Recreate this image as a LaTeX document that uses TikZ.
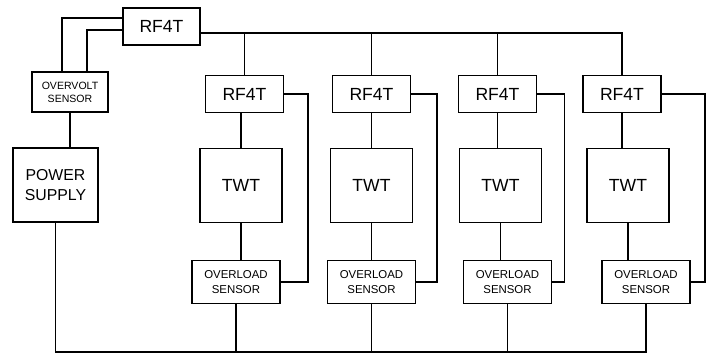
\documentclass[tikz,border=0pt]{standalone}
\usepackage{fontspec}
\setmainfont{Liberation Sans}
\usepackage{tikz}
\usetikzlibrary{positioning, calc}
\tikzstyle{rfbox} = [rectangle, minimum width=1.56cm, minimum height=0.74cm, text centered, draw=black, line width=1.05pt, inner sep=0pt, outer sep=0pt, font=\fontsize{10}{12}\selectfont]
\tikzstyle{twtbox} = [rectangle, minimum width=1.64cm, minimum height=1.48cm, text centered, draw=black, line width=1.05pt, inner sep=0pt, outer sep=0pt, font=\fontsize{10}{12}\selectfont]
\tikzstyle{sensor} = [rectangle, minimum width=1.76cm, minimum height=0.86cm, align=center, draw=black, line width=1.05pt, inner sep=0pt, outer sep=0pt, font=\fontsize{6.5}{8.5}\selectfont]
\tikzstyle{wire} = [line width=1.05pt]

\begin{document}
\begin{tikzpicture}
    \useasboundingbox (0,0) rectangle (14.28,7.12);

    % Control RF4T and supply branch
    \node (rftop) [rfbox, minimum width=1.54cm] at (3.23,6.59) {RF4T};
    \node (ov) [sensor, minimum width=1.52cm, minimum height=0.8cm, font=\fontsize{6}{7.5}\selectfont] at (1.40,5.28) {OVERVOLT\\SENSOR};
    \node (ps) [twtbox, minimum width=1.70cm, align=center, font=\fontsize{9}{11}\selectfont] at (1.11,3.42) {POWER\\SUPPLY};

    % Channel 1
    \node (rf1) [rfbox] at (4.89,5.24) {RF4T};
    \node (tw1) [twtbox, below=0.72cm of rf1, xshift=-0.07cm] {TWT};
    \node (ol1) [sensor, below=0.76cm of tw1, xshift=-0.1cm] {OVERLOAD\\SENSOR};

    % Channel 2
    \node (rf2) [rfbox, right=0.98cm of rf1] {RF4T};
    \node (tw2) [twtbox, below=0.72cm of rf2] {TWT};
    \node (ol2) [sensor, below=0.76cm of tw2] {OVERLOAD\\SENSOR};

    % Channel 3
    \node (rf3) [rfbox, right=0.96cm of rf2] {RF4T};
    \node (tw3) [twtbox, below=0.72cm of rf3, xshift=0.06cm] {TWT};
    \node (ol3) [sensor, below=0.76cm of tw3, xshift=0.14cm] {OVERLOAD\\SENSOR};

    % Channel 4
    \node (rf4) [rfbox, right=0.93cm of rf3] {RF4T};
    \node (tw4) [twtbox, below=0.72cm of rf4, xshift=0.12cm] {TWT};
    \node (ol4) [sensor, below=0.76cm of tw4, xshift=0.36cm] {OVERLOAD\\SENSOR};

    % --- Buses ---
    \coordinate (busT) at ([yshift=-0.13cm]rftop.east);
    \coordinate (busB) at (0,0.08);

    \draw [wire] (busT) -| (rf4.north);
    \draw [wire] (rf1.north) -- (rf1.north |- busT);
    \draw [wire] (rf2.north) -- (rf2.north |- busT);
    \draw [wire] (rf3.north) -- (rf3.north |- busT);

    \draw [wire] ([yshift=0.17cm]rftop.west) -| ($(ov.north)+(-0.16,0)$);
    \draw [wire] ([yshift=-0.07cm]rftop.west) -| ($(ov.north)+(0.34,0)$);
    \draw [wire] (ov.south) -- (ov.south |- ps.north);

    \draw [wire] (ps.south) |- (ol4.south |- busB) -- (ol4.south);
    \draw [wire] (ol1.south) -- (ol1.south |- busB);
    \draw [wire] (ol2.south) -- (ol2.south |- busB);
    \draw [wire] (ol3.south) -- (ol3.south |- busB);

    % --- Chains and return loops ---
    \draw [wire] (tw1.north) -- (tw1.north |- rf1.south);
    \draw [wire] (tw1.south) -- (tw1.south |- ol1.north);
    \draw [wire] (rf1.east) -- ++(0.49,0) |- (ol1.east);

    \draw [wire] (rf2.south) -- (tw2.north);
    \draw [wire] (tw2.south) -- (ol2.north);
    \draw [wire] (rf2.east) -- ++(0.53,0) |- (ol2.east);

    \draw [wire] (rf3.south) -- (rf3.south |- tw3.north);
    \draw [wire] (tw3.south) -- (tw3.south |- ol3.north);
    \draw [wire] (rf3.east) -- ++(0.56,0) |- (ol3.east);

    \draw [wire] (rf4.south) -- (rf4.south |- tw4.north);
    \draw [wire] (tw4.south) -- (tw4.south |- ol4.north);
    \draw [wire] (rf4.east) -- ++(0.88,0) |- (ol4.east);

\end{tikzpicture}
\end{document}
